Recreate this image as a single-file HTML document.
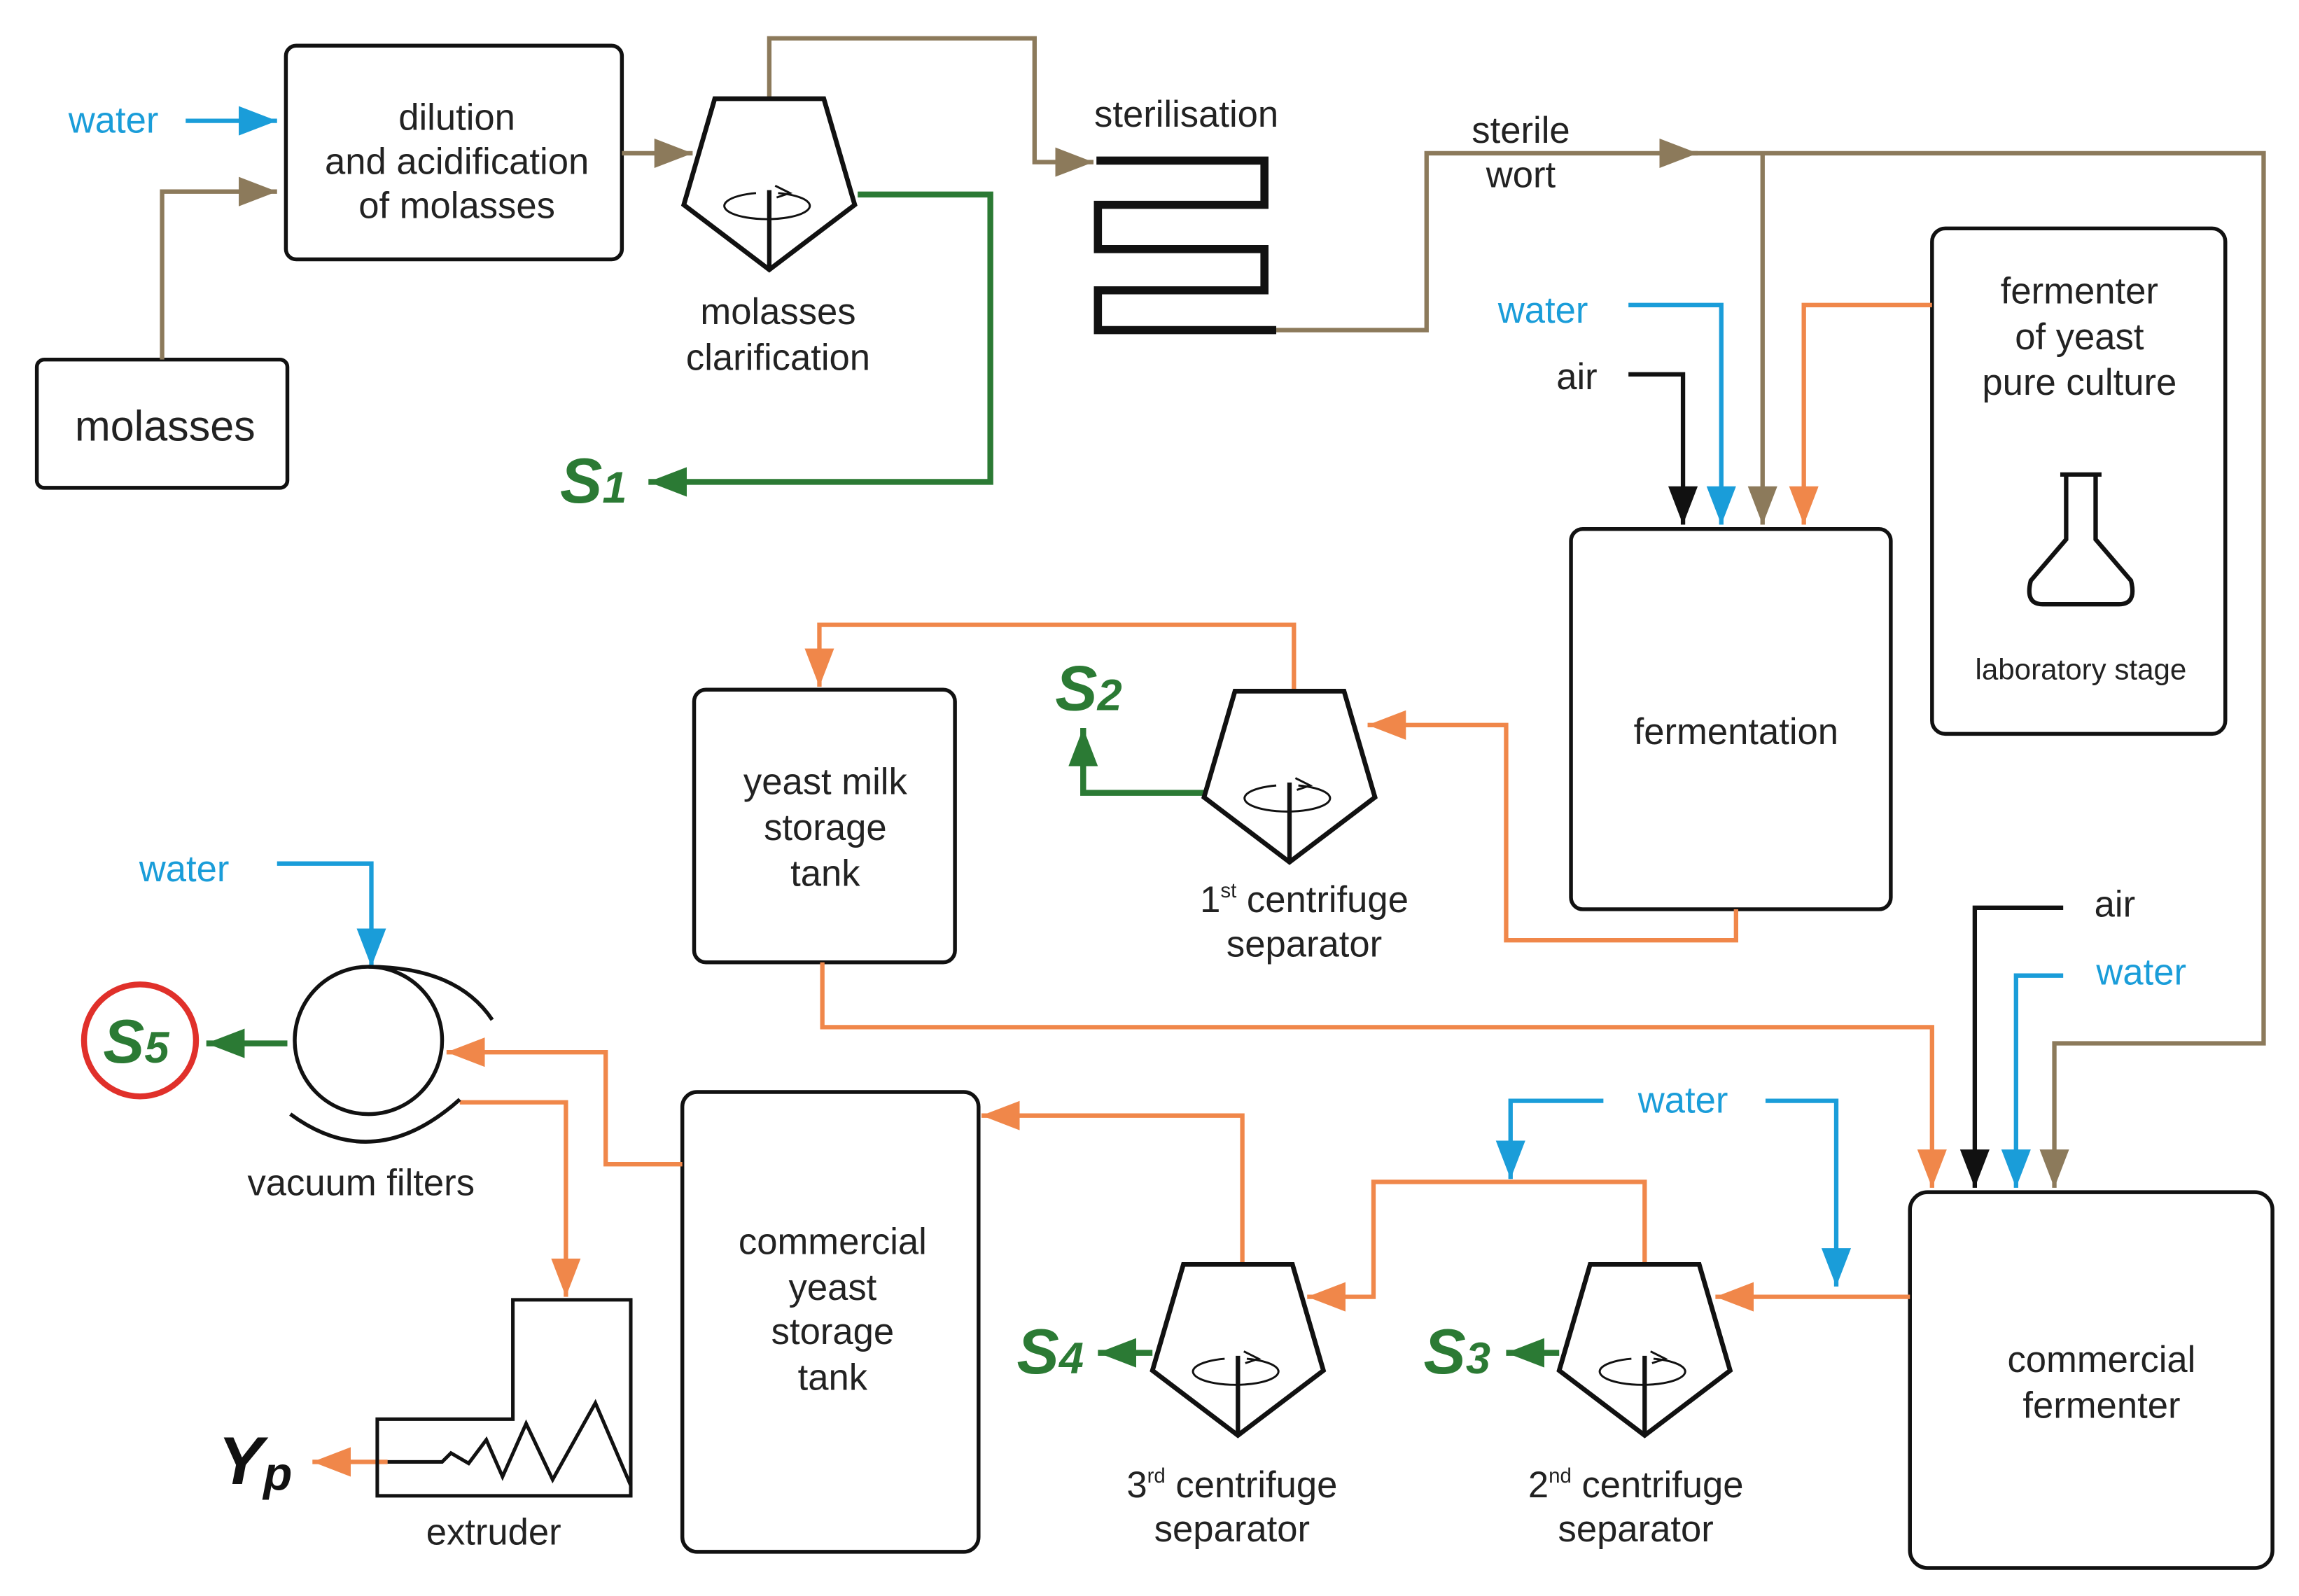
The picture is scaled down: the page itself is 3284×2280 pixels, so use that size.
<!DOCTYPE html>
<html><head><meta charset="utf-8"><style>
html,body{margin:0;padding:0;background:#fff;}
svg{display:block;}
text{font-family:"Liberation Sans",sans-serif;}
</style></head><body>
<svg width="3284" height="2280" viewBox="0 0 1560 1083" preserveAspectRatio="none" xmlns="http://www.w3.org/2000/svg">
<defs>
<marker id="ab" markerUnits="userSpaceOnUse" markerWidth="28" markerHeight="22" refX="26" refY="10" orient="auto"><path d="M0,0 L26,10 L0,20 Z" fill="#8c7a5b"/></marker>
<marker id="abl" markerUnits="userSpaceOnUse" markerWidth="28" markerHeight="22" refX="26" refY="10" orient="auto"><path d="M0,0 L26,10 L0,20 Z" fill="#1a9dd9"/></marker>
<marker id="ak" markerUnits="userSpaceOnUse" markerWidth="28" markerHeight="22" refX="26" refY="10" orient="auto"><path d="M0,0 L26,10 L0,20 Z" fill="#111"/></marker>
<marker id="ao" markerUnits="userSpaceOnUse" markerWidth="28" markerHeight="22" refX="26" refY="10" orient="auto"><path d="M0,0 L26,10 L0,20 Z" fill="#f0874a"/></marker>
<marker id="ag" markerUnits="userSpaceOnUse" markerWidth="28" markerHeight="22" refX="26" refY="10" orient="auto"><path d="M0,0 L26,10 L0,20 Z" fill="#2b7a34"/></marker>
<g id="cent">
<path d="M-37,0 H37 L58,72 L0,116 L-58,72 Z" fill="#fff" stroke="#111" stroke-width="3.2" stroke-linejoin="miter"/>
<path d="M-9,-9 A29,9 0 1 0 6,-9" transform="translate(0,73)" fill="none" stroke="#111" stroke-width="1.4"/>
<path d="M4,59 L14,64 L5,67" fill="none" stroke="#111" stroke-width="1.4"/>
<line x1="0" y1="62" x2="0" y2="116" stroke="#111" stroke-width="3"/>
</g>
</defs>

<g fill="#fff" stroke="#111" stroke-width="2.6">
<rect x="194" y="31" width="228" height="145" rx="7"/>
<rect x="25" y="244" width="170" height="87" rx="5"/>
<rect x="1311" y="155" width="199" height="343" rx="9"/>
<rect x="1066" y="359" width="217" height="258" rx="8"/>
<rect x="471" y="468" width="177" height="185" rx="8"/>
<rect x="463" y="741" width="201" height="312" rx="10"/>
<rect x="1296" y="809" width="246" height="255" rx="12"/>
</g>

<g fill="none" stroke="#8c7a5b" stroke-width="3">
<path d="M110,244 V130 H188" marker-end="url(#ab)"/>
<path d="M422,104 H470" marker-end="url(#ab)"/>
<path d="M522,67 V26 H702 V110 H742" marker-end="url(#ab)"/>
<path d="M866,224 H968 V104 H1152" marker-end="url(#ab)"/>
<path d="M1140,104 H1536 V708 H1394 V806" marker-end="url(#ab)"/>
<path d="M1196,104 V356" marker-end="url(#ab)"/>
</g>

<path d="M744,109 H858 V139 H745 V169 H858 V197 H745 V224 H866" fill="none" stroke="#111" stroke-width="5.5" stroke-linejoin="miter"/>

<g fill="none" stroke="#1a9dd9" stroke-width="3">
<path d="M126,82 H188" marker-end="url(#abl)"/>
<path d="M1105,207 H1168 V356" marker-end="url(#abl)"/>
<path d="M188,586 H252 V656" marker-end="url(#abl)"/>
<path d="M1400,662 H1368 V806" marker-end="url(#abl)"/>
<path d="M1088,747 H1025 V800" marker-end="url(#abl)"/>
<path d="M1198,747 H1246 V873" marker-end="url(#abl)"/>
</g>

<g fill="none" stroke="#111" stroke-width="3">
<path d="M1105,254 H1142 V356" marker-end="url(#ak)"/>
<path d="M1400,616 H1340 V806" marker-end="url(#ak)"/>
</g>

<g fill="none" stroke="#f0874a" stroke-width="3">
<path d="M1311,207 H1224 V356" marker-end="url(#ao)"/>
<path d="M1178,617 V638 H1022 V492 H928" marker-end="url(#ao)"/>
<path d="M878,468 V424 H556 V466" marker-end="url(#ao)"/>
<path d="M558,653 V697 H1311 V806" marker-end="url(#ao)"/>
<path d="M1296,880 H1164" marker-end="url(#ao)"/>
<path d="M1116,858 V802 H932 V880 H887" marker-end="url(#ao)"/>
<path d="M843,858 V757 H666" marker-end="url(#ao)"/>
<path d="M463,790 H411 V714 H303" marker-end="url(#ao)"/>
<path d="M312,748 H384 V880" marker-end="url(#ao)"/>
<path d="M263,992 H212" marker-end="url(#ao)"/>
</g>

<g fill="none" stroke="#2b7a34" stroke-width="4">
<path d="M582,132 H672 V327 H440" marker-end="url(#ag)"/>
<path d="M818,538 H735 V494" marker-end="url(#ag)"/>
<path d="M782,918 H745" marker-end="url(#ag)"/>
<path d="M1058,918 H1022" marker-end="url(#ag)"/>
<path d="M195,708 H140" marker-end="url(#ag)"/>
</g>

<use href="#cent" x="522" y="67"/>
<use href="#cent" x="875" y="469"/>
<use href="#cent" x="840" y="858"/>
<use href="#cent" x="1116" y="858"/>

<circle cx="250" cy="706" r="50" fill="none" stroke="#111" stroke-width="2.6"/>
<path d="M250,656 Q310,656 334,692" fill="none" stroke="#111" stroke-width="2.6"/>
<path d="M197,756 Q254,798 312,746" fill="none" stroke="#111" stroke-width="2.6"/>
<circle cx="95" cy="706" r="38" fill="none" stroke="#e0302a" stroke-width="4"/>

<path d="M348,882 H428 V1015 H256 V963 H348 Z" fill="none" stroke="#111" stroke-width="2.4"/>
<path d="M263,992 H300 L306,986 L318,993 L330,977 L341,1002 L357,966 L375,1004 L404,952 L428,1008" fill="none" stroke="#111" stroke-width="2.4" stroke-linejoin="miter"/>

<path d="M1398,322 H1426 M1402,322 V366 L1378,394 Q1374,410 1386,410 H1438 Q1450,410 1446,394 L1422,366 V322" fill="none" stroke="#111" stroke-width="3"/>

<g font-size="25" fill="#222" text-anchor="middle">
<text x="310" y="88">dilution</text>
<text x="310" y="118">and acidification</text>
<text x="310" y="148">of molasses</text>
<text x="112" y="299" font-size="29">molasses</text>
<text x="528" y="220">molasses</text>
<text x="528" y="251">clarification</text>
<text x="805" y="86">sterilisation</text>
<text x="1032" y="97">sterile</text>
<text x="1032" y="127">wort</text>
<text x="1411" y="206">fermenter</text>
<text x="1411" y="237">of yeast</text>
<text x="1411" y="268">pure culture</text>
<text x="1412" y="461" font-size="20">laboratory stage</text>
<text x="1178" y="505">fermentation</text>
<text x="560" y="539">yeast milk</text>
<text x="560" y="570">storage</text>
<text x="560" y="601">tank</text>
<text x="885" y="619">1<tspan font-size="14" dy="-10">st</tspan><tspan dy="10"> centrifuge</tspan></text>
<text x="885" y="649">separator</text>
<text x="565" y="851">commercial</text>
<text x="565" y="882">yeast</text>
<text x="565" y="912">storage</text>
<text x="565" y="943">tank</text>
<text x="1426" y="931">commercial</text>
<text x="1426" y="962">fermenter</text>
<text x="836" y="1016">3<tspan font-size="14" dy="-10">rd</tspan><tspan dy="10"> centrifuge</tspan></text>
<text x="836" y="1046">separator</text>
<text x="1110" y="1016">2<tspan font-size="14" dy="-10">nd</tspan><tspan dy="10"> centrifuge</tspan></text>
<text x="1110" y="1046">separator</text>
<text x="245" y="811">vacuum filters</text>
<text x="335" y="1048">extruder</text>
<text x="1070" y="264">air</text>
<text x="1435" y="622">air</text>
</g>
<g font-size="25" fill="#1a9dd9" text-anchor="middle">
<text x="77" y="90">water</text>
<text x="1047" y="219">water</text>
<text x="125" y="598">water</text>
<text x="1453" y="668">water</text>
<text x="1142" y="755">water</text>
</g>
<g font-weight="bold" font-style="italic" fill="#2b7a34">
<text x="380" y="341" font-size="43">S<tspan font-size="30">1</tspan></text>
<text x="716" y="482" font-size="43">S<tspan font-size="30">2</tspan></text>
<text x="690" y="932" font-size="43">S<tspan font-size="30">4</tspan></text>
<text x="966" y="932" font-size="43">S<tspan font-size="30">3</tspan></text>
<text x="70" y="721" font-size="42">S<tspan font-size="30">5</tspan></text>
</g>
<text x="148" y="1007" font-size="46" font-weight="bold" font-style="italic" fill="#111">Y<tspan font-size="32" dy="4">p</tspan></text>
</svg>
</body></html>
